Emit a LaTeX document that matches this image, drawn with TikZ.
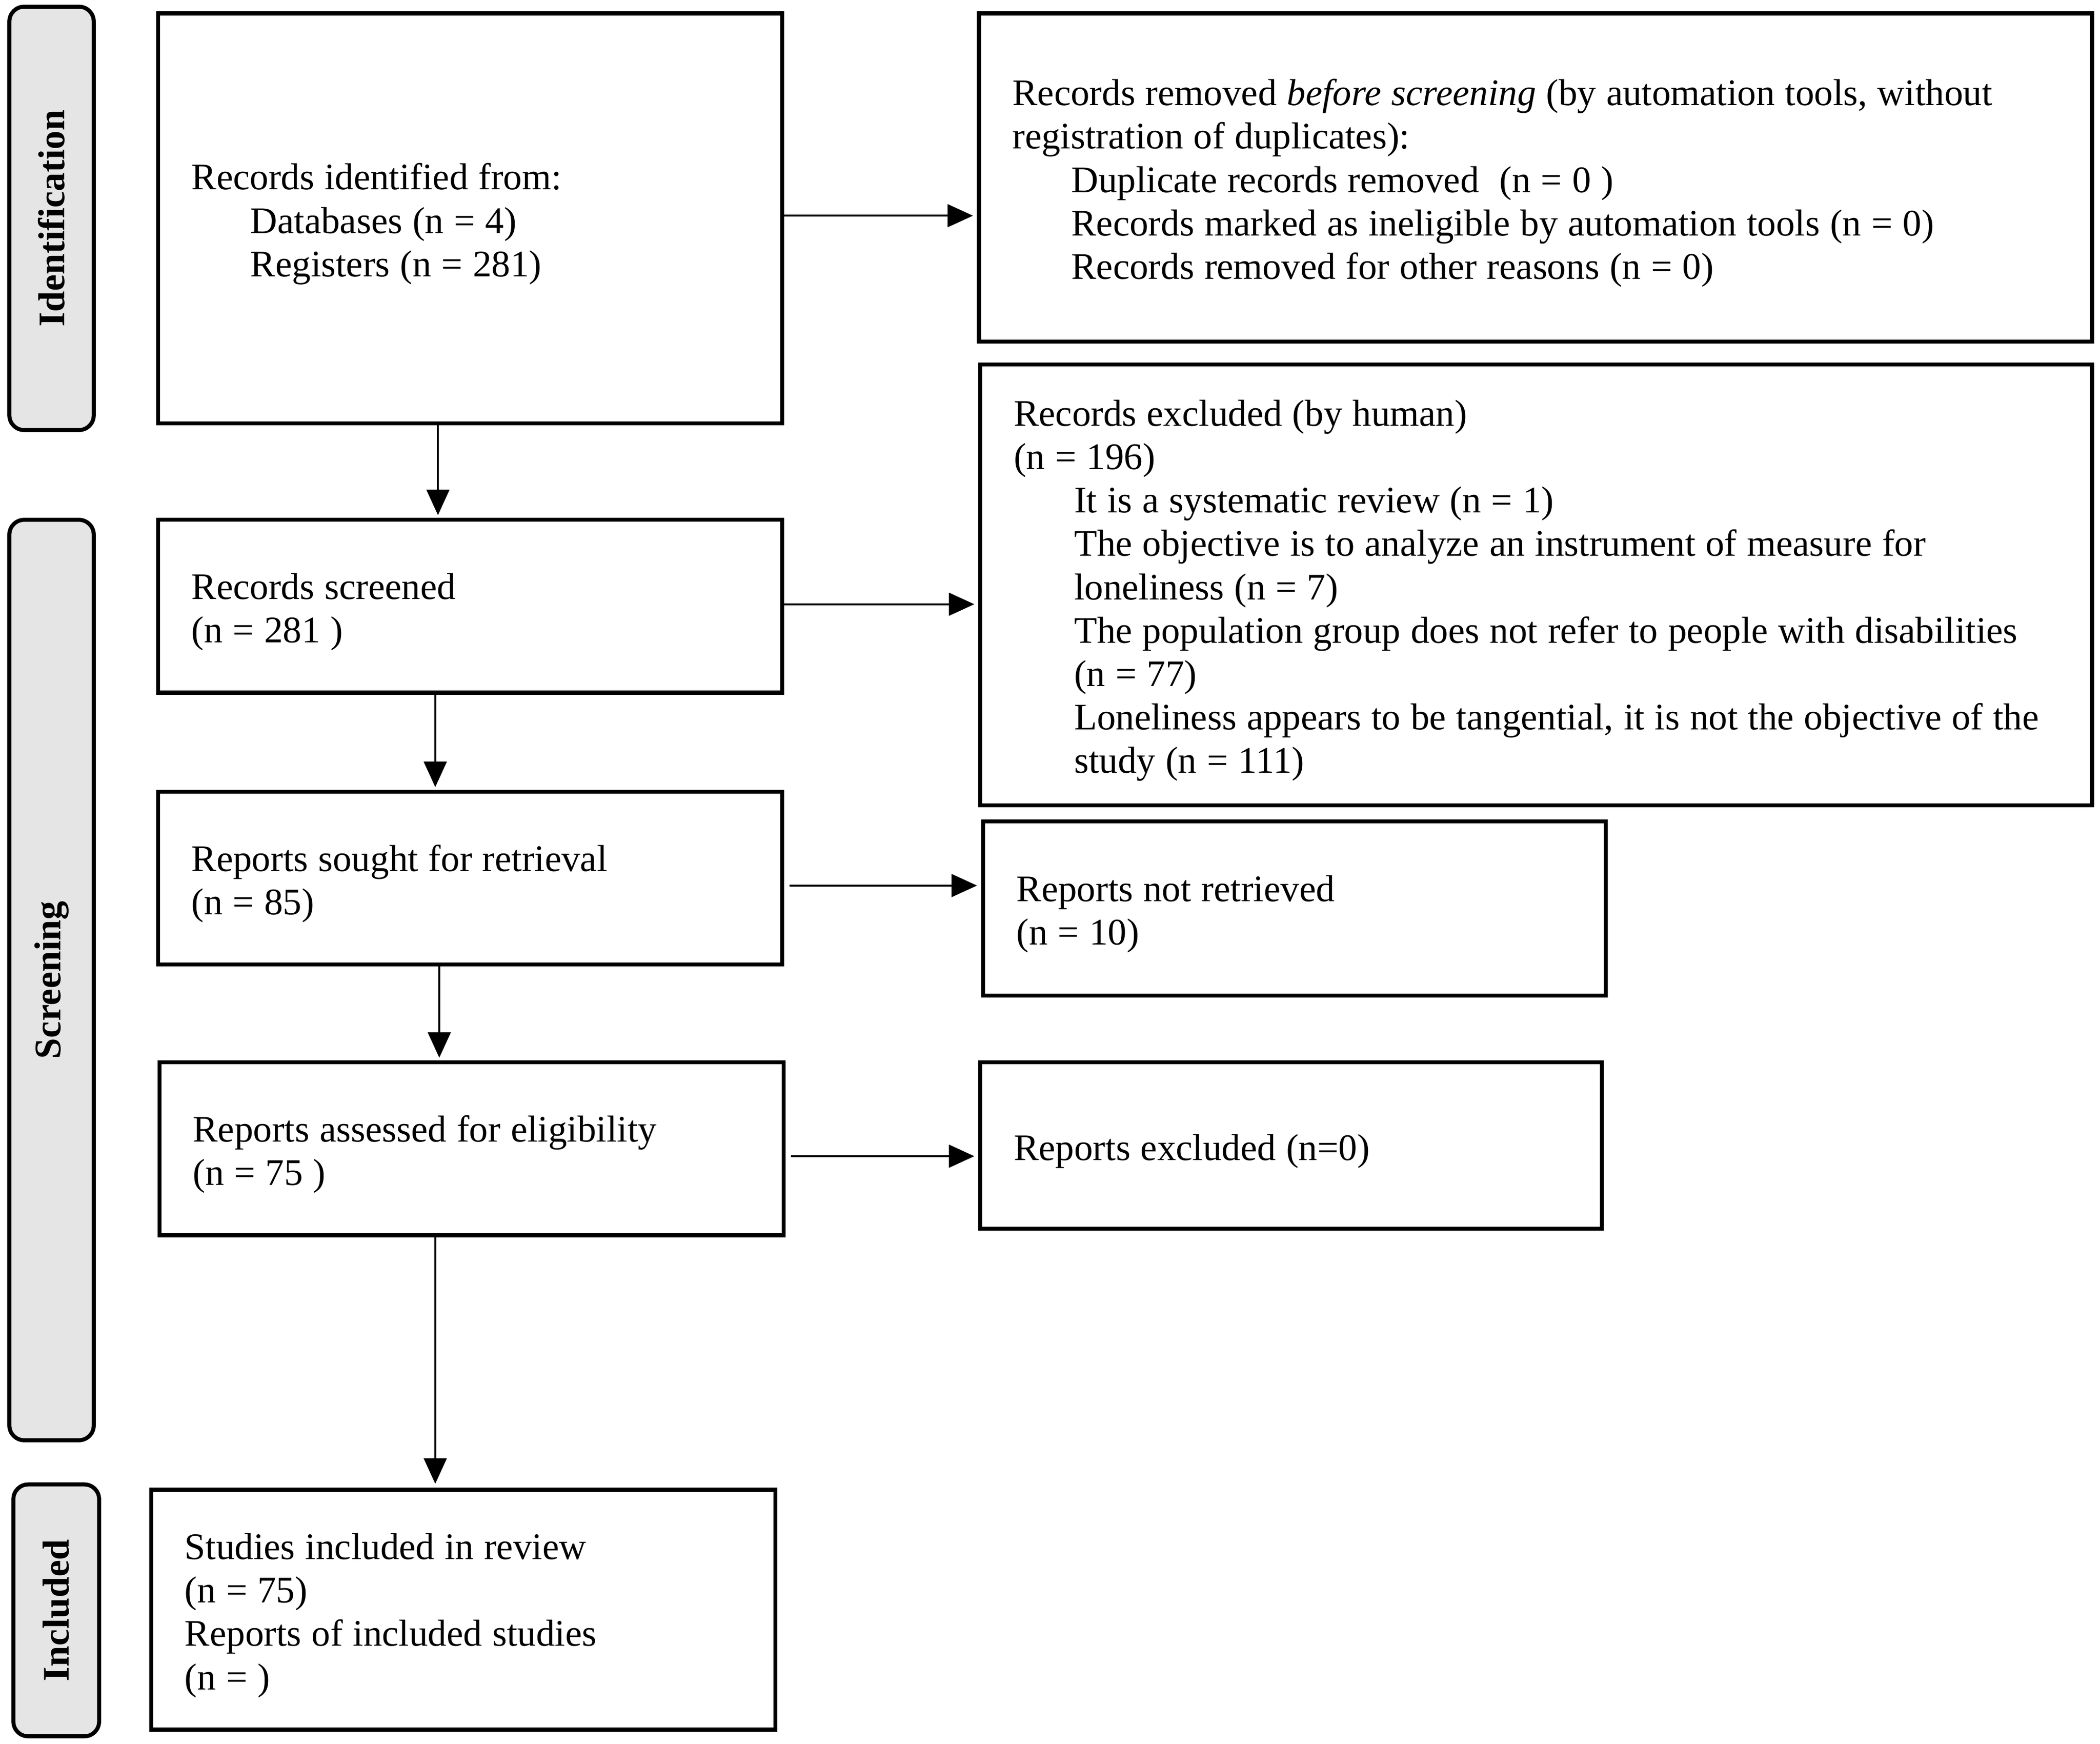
\documentclass[tikz,border=0pt]{standalone}
\usepackage{fontspec}
\setmainfont{Liberation Serif}
\usetikzlibrary{arrows.meta}
\newcommand\topstrut{\spaceskip=7.6pt\relax\xspaceskip=7.6pt\relax\rule{0pt}{31pt}}
\newcommand\botstrut{\rule[-9pt]{0pt}{0pt}}
\begin{document}
\begin{tikzpicture}[x=1pt,y=1pt,
  font=\fontsize{28}{32.4}\selectfont,
  pbox/.style={draw, line width=3pt, rectangle, inner xsep=25pt, inner ysep=0pt, align=left},
  phase/.style={draw, line width=3pt, rounded corners=11pt, fill=gray!20, rotate=90,
    font=\fontsize{28}{32.4}\selectfont\bfseries, inner sep=0pt},
  arr/.style={line width=1.5pt, -{Triangle[length=19pt,width=17pt]}}]
\useasboundingbox (0,0) rectangle (1568,-1301.4);

% phase labels
\node[phase, minimum width=316pt, minimum height=63pt] (p1) at (38.5,-163) {Identification};
\node[phase, minimum width=687pt, minimum height=63pt] (p2) at (38.5,-731.5) {Screening};
\node[phase, minimum width=188pt, minimum height=64pt] (p3) at (42,-1202) {Included};

% boxes
\node[pbox, minimum height=306pt, text width=416pt] (b1) at (351,-163)
  {\topstrut Records identified from:\\
   \hspace*{44pt}Databases (n = 4)\\
   \hspace*{44pt}Registers (n = 281)\botstrut};
\node[pbox, minimum height=245pt, text width=781pt] (b2) at (1146.5,-132.5)
  {\topstrut Records removed \textit{before screening} (by automation tools, without\\
   registration of duplicates):\\
   \hspace*{44pt}Duplicate records removed\ \ (n = 0 )\\
   \hspace*{44pt}Records marked as ineligible by automation tools (n = 0)\\
   \hspace*{44pt}Records removed for other reasons (n = 0)\botstrut};
\node[pbox, minimum height=129pt, text width=416pt] (b3) at (351,-452.5)
  {\topstrut Records screened\\(n = 281 )\botstrut};
\node[pbox, minimum height=329pt, text width=780pt] (b4) at (1147,-436.5)
  {\topstrut Records excluded (by human)\\
   (n = 196)\\
   \hspace*{45pt}It is a systematic review (n = 1)\\
   \hspace*{45pt}The objective is to analyze an instrument of measure for\\
   \hspace*{45pt}loneliness (n = 7)\\
   \hspace*{45pt}The population group does not refer to people with disabilities\\
   \hspace*{45pt}(n = 77)\\
   \hspace*{45pt}\mbox{Loneliness appears to be tangential, it is not the objective of the}\\
   \hspace*{45pt}study (n = 111)\botstrut};
\node[pbox, minimum height=129pt, text width=416pt] (b5) at (351,-655.5)
  {\topstrut Reports sought for retrieval\\(n = 85)\botstrut};
\node[pbox, minimum height=130pt, text width=415pt] (b6) at (966.5,-678)
  {\topstrut Reports not retrieved\\(n = 10)\botstrut};
\node[pbox, minimum height=129pt, text width=416pt] (b7) at (352,-857.5)
  {\topstrut Reports assessed for eligibility\\(n = 75 )\botstrut};
\node[pbox, minimum height=124pt, text width=414pt] (b8) at (964,-855)
  {\topstrut Reports excluded (n=0)\botstrut};
\node[pbox, minimum height=179pt, text width=416pt] (b9) at (346,-1201.5)
  {\topstrut Studies included in review\\(n = 75)\\Reports of included studies\\(n = )\botstrut};

% connectors
\draw[arr, shorten >=3pt] ([yshift=2pt]b1.east) -- ([yshift=2pt]b1.east -| b2.west);
\draw[arr, shorten >=3pt] ([yshift=1.5pt]b3.east) -- ([yshift=1.5pt]b3.east -| b4.west);
\draw[arr, shorten >=3pt] ([xshift=4pt,yshift=-5.5pt]b5.east) -- ([yshift=-5.5pt]b5.east -| b6.west);
\draw[arr, shorten >=3pt] ([xshift=4pt,yshift=-5.5pt]b7.east) -- ([yshift=-5.5pt]b7.east -| b8.west);

\draw[arr, shorten >=2pt] ([xshift=-24pt]b1.south) -- ([xshift=-24pt]b1.south |- b3.north);
\draw[arr, shorten >=2pt] ([xshift=-26pt]b3.south) -- ([xshift=-26pt]b3.south |- b5.north);
\draw[arr, shorten >=2pt] ([xshift=-23pt]b5.south) -- ([xshift=-23pt]b5.south |- b7.north);
\draw[arr, shorten >=3pt] ([xshift=-27pt]b7.south) -- ([xshift=-27pt]b7.south |- b9.north);
\end{tikzpicture}
\end{document}
